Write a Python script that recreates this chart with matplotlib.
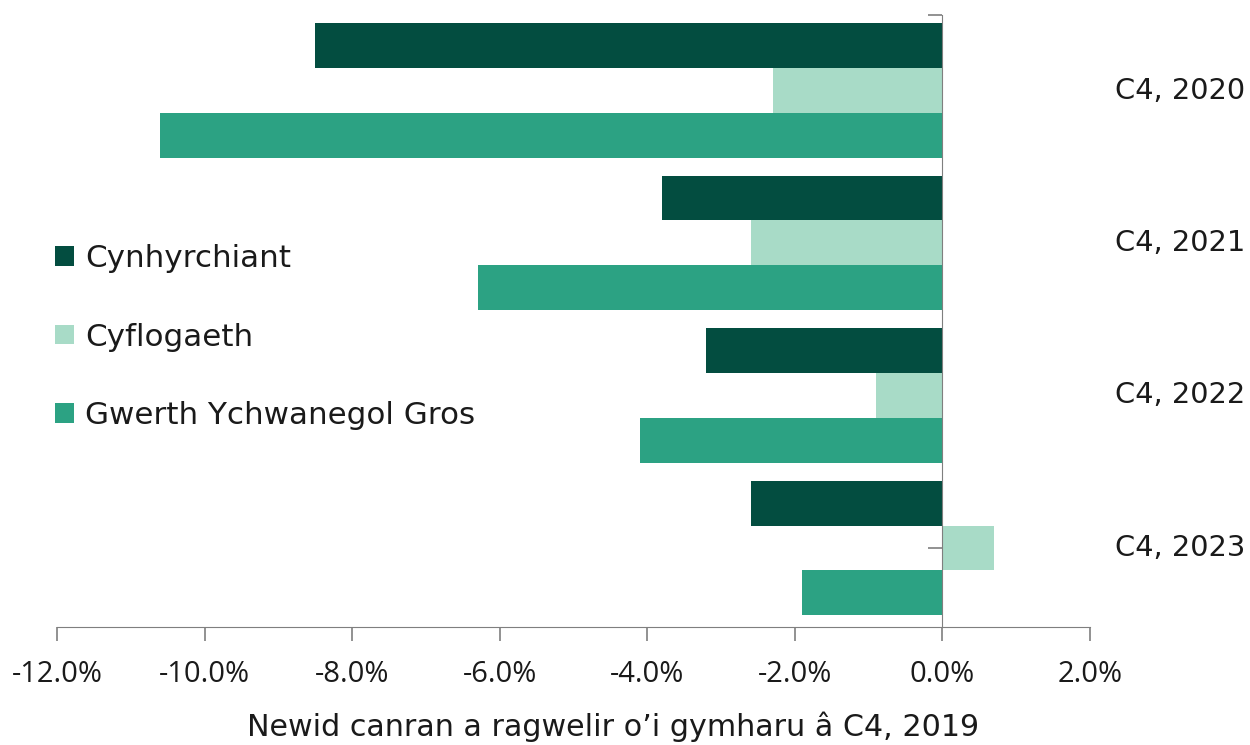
import matplotlib.pyplot as plt
import numpy as np
from matplotlib.patches import Patch
from matplotlib.ticker import FuncFormatter

plt.rcParams['font.family'] = ['Open Sans', 'DejaVu Sans']

quarters = ['C4, 2020', 'C4, 2021', 'C4, 2022', 'C4, 2023']
series = ['Cynhyrchiant', 'Cyflogaeth', 'Gwerth Ychwanegol Gros']
cynhyrchiant = [-8.5, -3.8, -3.2, -2.6]
cyflogaeth = [-2.3, -2.6, -0.9, 0.7]
gwerth = [-10.6, -6.3, -4.1, -1.9]
colours = ['#034d40', '#a8dbc7', '#2ca283']

W, H = 1250, 745
wide = 'DejaVu Sans'
txt_col = '#1a1a1a'
fig = plt.figure(figsize=(W / 100, H / 100), dpi=100)
ax = fig.add_axes([57 / W, 1 - 627 / H, (1090 - 57) / W, (627 - 15) / H])

y = np.arange(len(quarters))
h = 0.295
for i, (vals, c) in enumerate(zip([cynhyrchiant, cyflogaeth, gwerth], colours)):
    ax.barh(y + (i - 1) * h, vals, height=h, color=c, zorder=2)

ax.set_xlim(-12, 2)
ax.set_ylim(3.518, -0.495)
ax.set_xticks(np.arange(-12, 2.1, 2))
ax.xaxis.set_major_formatter(FuncFormatter(lambda v, p: f'{v:.1f}%'))

spine_col = '#7f7f7f'
for s in ['top', 'right']:
    ax.spines[s].set_visible(False)
ax.spines['left'].set_position(('data', 0))
ax.spines['left'].set_color(spine_col)
ax.spines['bottom'].set_color(spine_col)
ax.spines['left'].set_zorder(3)
ax.tick_params(axis='x', colors=spine_col, length=10, width=1.2, labelsize=21,
               labelcolor=txt_col, pad=14)
ax.set_yticks(list(y) + [-0.495])
ax.tick_params(axis='y', colors=spine_col, length=10, width=1.2, labelleft=False)

for yi, q in zip(y, quarters):
    fig.text(1115 / W, 1 - (90.5 + yi * 152.5) / H, q, family=wide,
             ha='left', va='center', fontsize=20.8, color=txt_col)

fig.text(613 / W, 1 - 727 / H, 'Newid canran a ragwelir o\u2019i gymharu \u00e2 C4, 2019',
         family=wide, ha='center', va='center', fontsize=21.7, color=txt_col)

handles = [Patch(facecolor=c, edgecolor='none') for c in colours]
leg = ax.legend(handles, series, loc='upper left', bbox_to_anchor=(55 / W, 1 - 244 / H),
                bbox_transform=fig.transFigure, frameon=False, fontsize=22.3,
                handlelength=0.6, handleheight=0.6, handletextpad=0.38,
                labelspacing=1.6, borderpad=0, borderaxespad=0, labelcolor=txt_col)
for t in leg.get_texts():
    t.set_family(wide)

fig.savefig('out.png', dpi=100)
